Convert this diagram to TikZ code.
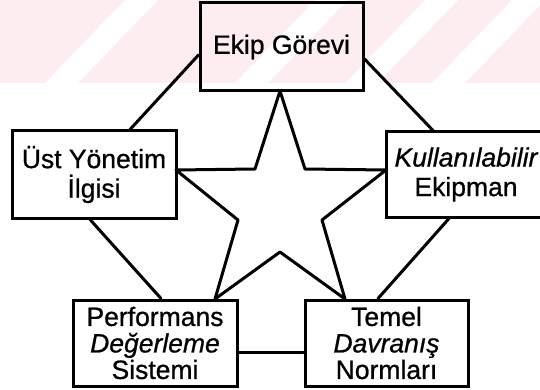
\documentclass[tikz,border=0pt]{standalone}
\usepackage{fontspec}
\setmainfont{Liberation Sans}[FakeBold=0.8]
\definecolor{bandpink}{RGB}{253,236,240}
\tikzset{
  box/.style={draw, line width=3pt, inner sep=0pt, align=center,
    font=\fontsize{26.5}{26.5}\selectfont},
  link/.style={line width=3pt, line cap=round, line join=round},
}
\begin{document}
\begin{tikzpicture}[x=1pt, y=-1pt]
  \useasboundingbox (0,0) rectangle (540,390);
  \begin{scope}
    \clip (0,0) rectangle (540,390);
    % faint striped band along the top
    \fill[bandpink] (0,0) rectangle (540,83);
    \foreach \b in {45,235,345,432}
      \fill[white] (\b,83) -- (\b+33,83) -- (\b+113,0) -- (\b+80,0) -- cycle;

    % boxes
    \node[box, minimum width=163pt, minimum height=88pt] (task) at (281.5,47) {Ekip Görevi};
    \node[box, minimum width=164pt, minimum height=87pt] (mgmt) at (94,174.5) {Üst Yönetim\\[3pt]İlgisi};
    \node[box, minimum width=160pt, minimum height=85pt] (equip) at (466,174.5) {\itshape Kullanılabilir\\[3pt]Ekipman};
    \node[box, minimum width=164pt, minimum height=86pt] (perf) at (155,343) {Performans\\\itshape Değerleme\\Sistemi};
    \node[box, minimum width=163pt, minimum height=86pt] (norms) at (386.5,343) {Temel\\\itshape Davranış\\\upshape Normları};

    % outer ring of connectors
    \draw[link] ([yshift=-8pt]task.west) -- ([xshift=36pt]mgmt.north);
    \draw[link] ([yshift=-12pt]task.east) -- ([xshift=-33pt]equip.north);
    \draw[link] ([xshift=-4pt]mgmt.south) -- ([xshift=6pt]perf.north);
    \draw[link] ([xshift=-17pt]equip.south) -- ([xshift=-8.5pt]norms.north);
    \draw[link] ([yshift=-9pt]perf.east) -- ([yshift=-9pt]norms.west);

    % star in the middle, its tips on the boxes
    \draw[link] (280,91) -- (305,169) -- (386,170) -- (322,220) -- (345,299)
      -- (280,252) -- (215,299) -- (238,220) -- (176,170) -- (255,169) -- cycle;
  \end{scope}
\end{tikzpicture}
\end{document}
